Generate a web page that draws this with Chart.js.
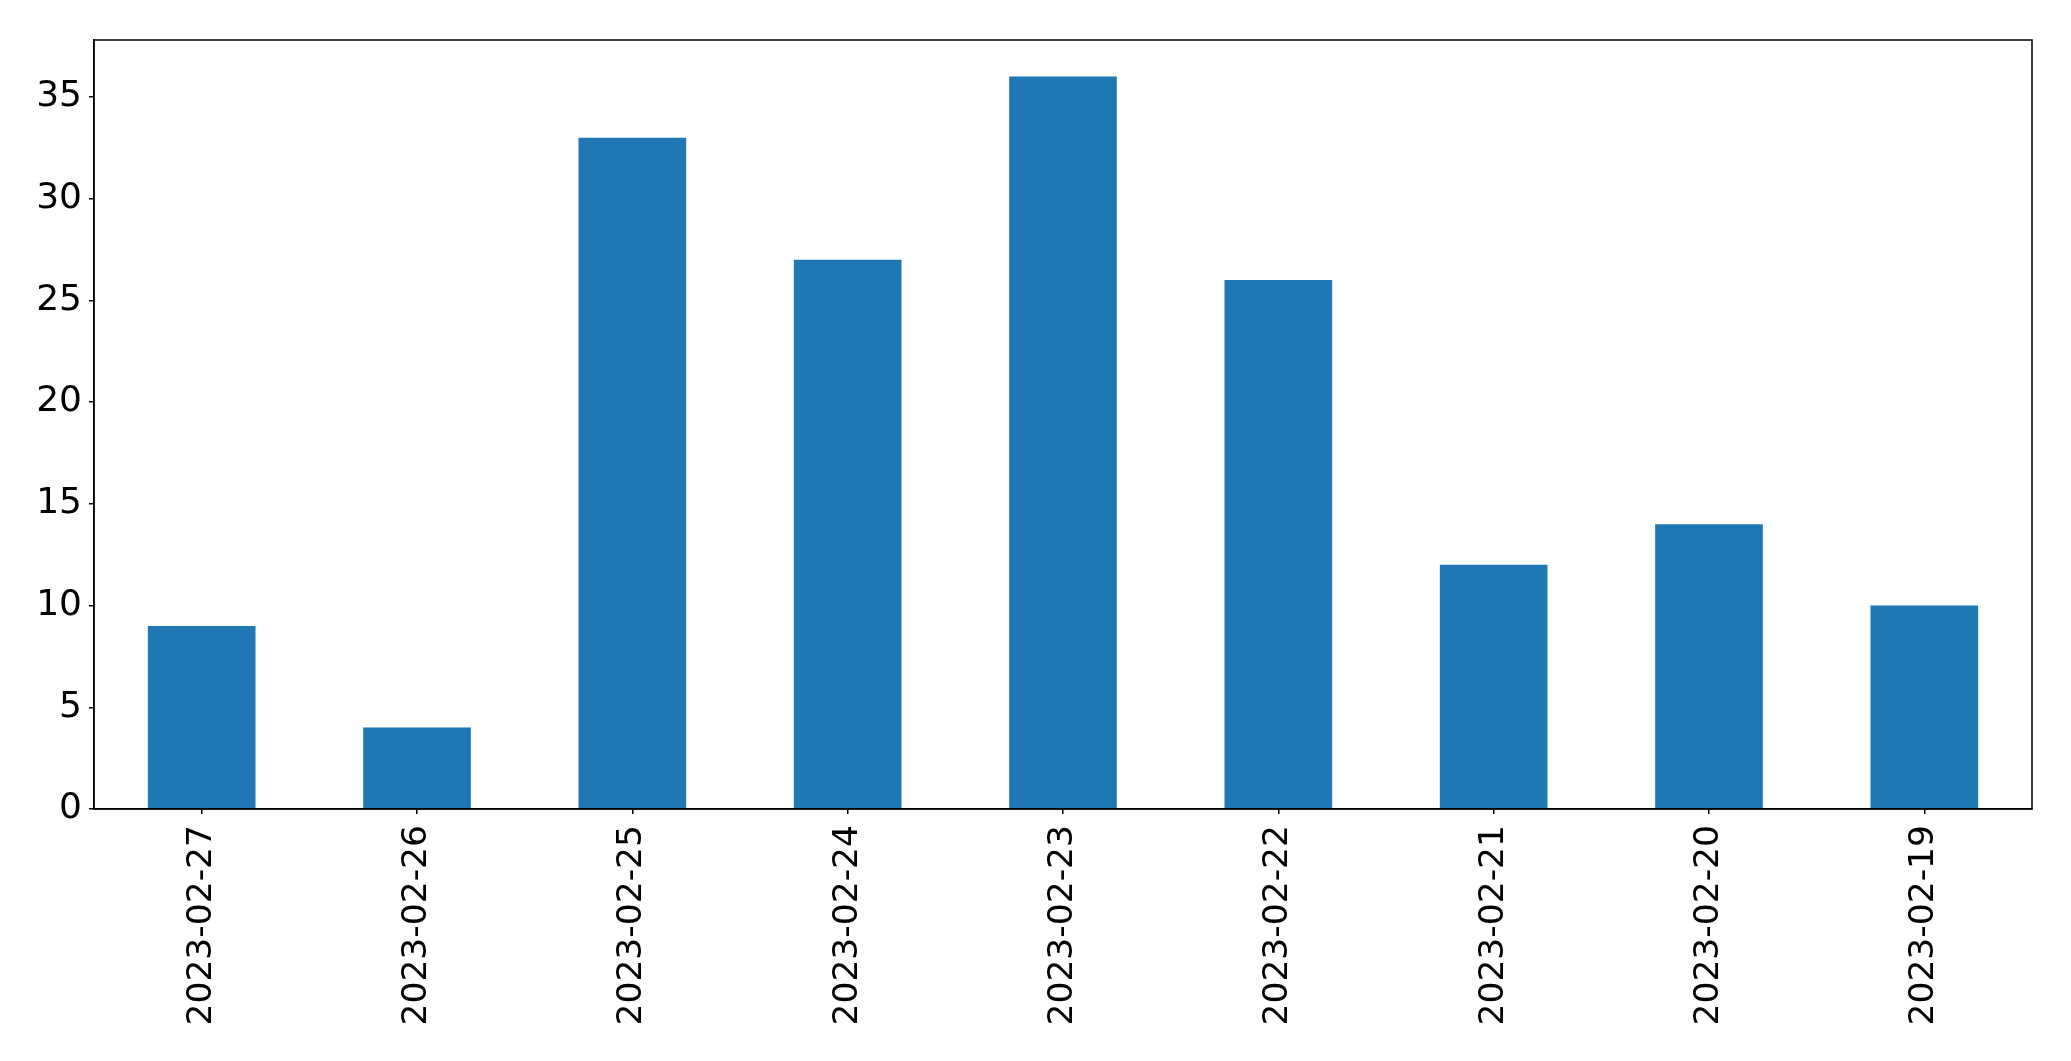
<!DOCTYPE html>
<html>
<head>
<meta charset="utf-8">
<script src="https://cdn.jsdelivr.net/npm/chart.js@4/dist/chart.umd.min.js"></script>
<style>
  html, body { margin: 0; padding: 0; background: #fff; }
  #wrap { width: 2071px; height: 1061px; }
</style>
</head>
<body>
<div id="wrap"><canvas id="grafico" width="2071" height="1061"></canvas></div>
<script>
// datos del gráfico
const fechas = ['2023-02-27', '2023-02-26', '2023-02-25', '2023-02-24', '2023-02-23', '2023-02-22', '2023-02-21', '2023-02-20', '2023-02-19'];
const conteos = [9, 4, 33, 27, 36, 26, 12, 14, 10];
const ticksY = [0, 5, 10, 15, 20, 25, 30, 35];
const maxY = 37.8;

// marco completo alrededor del área de trazado (estilo matplotlib)
const marco = {
    id: 'marco',
    afterDraw(chart) {
        const { ctx, chartArea: a } = chart;
        ctx.save();
        ctx.strokeStyle = '#000';
        ctx.lineWidth = 1.5;
        ctx.strokeRect(a.left, a.top, a.right - a.left, a.bottom - a.top);
        ctx.restore();
    }
};

new Chart(document.getElementById('grafico').getContext('2d'), {
    type: 'bar',
    data: {
        labels: fechas,
        datasets: [{ data: conteos, backgroundColor: '#1f77b4', barPercentage: 0.5, categoryPercentage: 1.0 }]
    },
    options: {
        responsive: false, animation: false, devicePixelRatio: 1,
        layout: { padding: { top: 40, right: 39, left: 0, bottom: 0 } },
        plugins: { legend: { display: false }, tooltip: { enabled: false } },
        scales: {
            x: {
                grid: { display: true, offset: false, drawOnChartArea: false, drawTicks: true, tickLength: 5, color: '#000', lineWidth: 1.5 },
                border: { display: true, color: '#000', width: 1.5 },
                ticks: { color: '#000', font: { family: 'DejaVu Sans', size: 34.5 }, maxRotation: 90, minRotation: 90, padding: 11, autoSkip: false },
                afterFit: (s) => { s.height = 252; }
            },
            y: {
                min: 0, max: maxY,
                grid: { display: true, drawOnChartArea: false, drawTicks: true, tickLength: 5, color: '#000', lineWidth: 1.5 },
                border: { display: true, color: '#000', width: 1.5 },
                ticks: { color: '#000', font: { family: 'DejaVu Sans', size: 36 }, padding: 7 },
                afterBuildTicks: (s) => { s.ticks = ticksY.map(v => ({ value: v })); },
                afterFit: (s) => { s.width = 94; }
            }
        }
    },
    plugins: [marco]
});
</script>
</body>
</html>
